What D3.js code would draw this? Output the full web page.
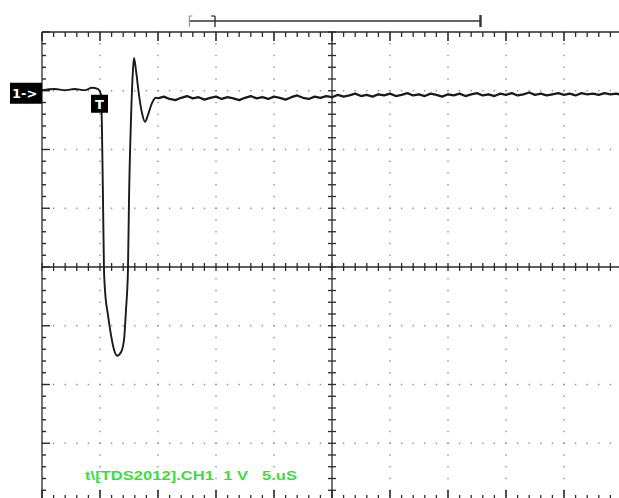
<!DOCTYPE html>
<html>
<head>
<meta charset="utf-8">
<script src="https://cdn.jsdelivr.net/npm/d3@7"></script>
<style>
  html, body { margin: 0; padding: 0; background: #fff; }
  svg { display: block; }
</style>
</head>
<body>
<div id="chart"></div>
<script>
// scope screen: 5 us/div, 1 V/div, 10 x 8 divisions
const timeDomain = [0, 50]
const voltDomain = [-4, 4]
const divTimes = [0, 5, 10, 15, 20, 25, 30, 35, 40, 45, 50]
const divVolts = [-4, -3, -2, -1, 0, 1, 2, 3, 4]

// pulse edge (us, V)
const edgeTimes = [0, 1.1, 2.0, 2.8, 3.7, 4.3, 4.8, 5.09, 5.17, 5.26, 5.34, 5.43, 5.69, 5.95, 6.21, 6.47, 6.81, 7.07, 7.24, 7.41, 7.5, 7.67, 7.84, 7.93, 8.1, 8.36, 8.62, 8.88, 9.14, 9.48, 9.83, 10.0]
const edgeVolts = [3.01, 3.03, 3.01, 3.03, 3.01, 3.05, 3.03, 2.93, 2.33, 1.14, 0, -0.39, -0.82, -1.16, -1.41, -1.51, -1.45, -1.24, -0.73, -0.05, 1.14, 2.5, 3.35, 3.56, 3.35, 2.93, 2.62, 2.47, 2.59, 2.79, 2.88, 2.87]

// settled, noisy part, one sample every 0.5 us from 10 us
const tailStart = 10
const tailStep = 0.5
const tailVolts = [
  2.87, 2.90, 2.86, 2.84, 2.88, 2.91, 2.87, 2.89, 2.85, 2.88,
  2.90, 2.86, 2.89, 2.87, 2.84, 2.88, 2.91, 2.87, 2.89, 2.86,
  2.90, 2.88, 2.85, 2.89, 2.92, 2.88, 2.86, 2.90, 2.88, 2.91,
  2.89, 2.93, 2.90, 2.92, 2.95, 2.91, 2.93, 2.90, 2.94, 2.92,
  2.95, 2.91, 2.93, 2.96, 2.92, 2.94, 2.91, 2.95, 2.93, 2.90,
  2.94, 2.92, 2.95, 2.91, 2.94, 2.96, 2.92, 2.94, 2.91, 2.95,
  2.93, 2.96, 2.92, 2.94, 2.97, 2.93, 2.95, 2.92, 2.94, 2.96,
  2.93, 2.95, 2.92, 2.96, 2.94, 2.95, 2.93, 2.96, 2.94, 2.95,
  2.93
]

const channelLabel = "1->"
const triggerLabel = "T"
const readout = "t\\[TDS2012].CH1  1 V   5.uS"
const triggerLevel = 3.0
const triggerTime = 5.0
const windowRange = [12.7, 37.8]

const config = {
  width: 619,
  height: 498,
  left: 42,
  top: 32,
  right: 622,
  bottom: 502,
  gridColor: "#8c8c8c",
  axisColor: "#2a2a2a",
  traceColor: "#1a1a1a",
  readoutColor: "#3ddc3d"
}

const x = d3.scaleLinear().domain(timeDomain).range([config.left, config.right])
const y = d3.scaleLinear().domain(voltDomain).range([config.bottom, config.top])

const svg = d3.select("#chart").append("svg")
    .attr("width", config.width)
    .attr("height", config.height)

function drawGrid () {
  const minorTimes = d3.range(timeDomain[0], timeDomain[1] + 0.01, 1)
  const minorVolts = d3.range(voltDomain[0], voltDomain[1] + 0.01, 0.2)
  const g = svg.append("g").attr("class", "grid")

  // dotted division lines
  divTimes.slice(1, -1).filter(t => t !== 25).forEach(t => {
    g.selectAll(null).data(minorVolts).enter().append("rect")
      .attr("x", x(t) - 0.7)
      .attr("y", d => y(d) - 0.7)
      .attr("width", 1.4)
      .attr("height", 1.4)
      .attr("fill", config.gridColor)
  })
  divVolts.slice(1, -1).filter(v => v !== 0).forEach(v => {
    g.selectAll(null).data(minorTimes).enter().append("rect")
      .attr("x", d => x(d) - 0.7)
      .attr("y", y(v) - 0.7)
      .attr("width", 1.4)
      .attr("height", 1.4)
      .attr("fill", config.gridColor)
  })

  const axes = svg.append("g").attr("class", "axes")
    .attr("stroke", config.axisColor)

  // border lines
  axes.append("line").attr("x1", x(0)).attr("x2", x(50)).attr("y1", y(4)).attr("y2", y(4)).attr("stroke-width", 1.3)
  axes.append("line").attr("x1", x(0)).attr("x2", x(0)).attr("y1", y(4)).attr("y2", y(-4)).attr("stroke-width", 1.3)
  axes.append("line").attr("x1", x(0)).attr("x2", x(50)).attr("y1", y(-4)).attr("y2", y(-4)).attr("stroke-width", 1.3)

  // center cross
  axes.append("line").attr("x1", x(0)).attr("x2", x(50)).attr("y1", y(0)).attr("y2", y(0)).attr("stroke-width", 1.3)
  axes.append("line").attr("x1", x(25)).attr("x2", x(25)).attr("y1", y(4)).attr("y2", y(-4)).attr("stroke-width", 1.3)

  const isMajorT = t => Math.abs(t % 5) < 0.01
  const isMajorV = v => Math.abs(Math.round(v) - v) < 0.01

  // top and bottom border ticks
  axes.selectAll(null).data(minorTimes).enter().append("line")
    .attr("x1", d => x(d)).attr("x2", d => x(d))
    .attr("y1", y(4)).attr("y2", d => y(4) + (isMajorT(d) ? 9 : 5))
    .attr("stroke-width", d => isMajorT(d) ? 1.6 : 1.3)
  axes.selectAll(null).data(minorTimes).enter().append("line")
    .attr("x1", d => x(d)).attr("x2", d => x(d))
    .attr("y1", y(-4)).attr("y2", d => y(-4) - (isMajorT(d) ? 12 : 7))
    .attr("stroke-width", d => isMajorT(d) ? 1.6 : 1.3)

  // left border ticks
  axes.selectAll(null).data(minorVolts).enter().append("line")
    .attr("x1", x(0)).attr("x2", d => x(0) + (isMajorV(d) ? 8 : 4))
    .attr("y1", d => y(d)).attr("y2", d => y(d))
    .attr("stroke-width", 1.4)

  // ticks on the center cross
  axes.selectAll(null).data(minorTimes).enter().append("line")
    .attr("x1", d => x(d)).attr("x2", d => x(d))
    .attr("y1", y(0) - 4).attr("y2", y(0) + 4)
    .attr("stroke-width", 1.3)
  axes.selectAll(null).data(minorVolts).enter().append("line")
    .attr("x1", x(25) - 4).attr("x2", x(25) + 4)
    .attr("y1", d => y(d)).attr("y2", d => y(d))
    .attr("stroke-width", 1.3)
}

function drawTrace () {
  const edge = edgeTimes.map((t, i) => [t, edgeVolts[i]])
  const tail = tailVolts.map((v, i) => [tailStart + i * tailStep, v])

  const smooth = d3.line()
    .x(d => x(d[0]))
    .y(d => y(d[1]))
    .curve(d3.curveMonotoneX)

  const jagged = d3.line()
    .x(d => x(d[0]))
    .y(d => y(d[1]))

  svg.append("path")
    .datum(edge)
    .attr("d", smooth)
    .attr("fill", "none")
    .attr("stroke", config.traceColor)
    .attr("stroke-width", 1.9)
    .attr("stroke-linejoin", "round")

  svg.append("path")
    .datum(tail)
    .attr("d", jagged)
    .attr("fill", "none")
    .attr("stroke", config.traceColor)
    .attr("stroke-width", 2.3)
    .attr("stroke-linejoin", "round")
}

function drawMarkers () {
  // channel marker on the left
  const yc = y(triggerLevel)
  svg.append("rect")
    .attr("x", 10).attr("y", yc - 8)
    .attr("width", x(0) - 10).attr("height", 21)
    .attr("fill", "#000")
  svg.append("text")
    .attr("x", 12).attr("y", yc + 7)
    .attr("fill", "#fff")
    .attr("font-family", "DejaVu Sans, sans-serif")
    .attr("font-weight", "bold")
    .attr("font-size", 13)
    .text(channelLabel)

  // trigger box
  const xt = x(triggerTime)
  svg.append("rect")
    .attr("x", xt - 9).attr("y", yc + 4)
    .attr("width", 17).attr("height", 18)
    .attr("fill", "#000")
  svg.append("text")
    .attr("x", xt - 0.5).attr("y", yc + 18)
    .attr("text-anchor", "middle")
    .attr("fill", "#fff")
    .attr("font-family", "DejaVu Sans, sans-serif")
    .attr("font-weight", "bold")
    .attr("font-size", 13)
    .text(triggerLabel)

  // acquisition window bracket at the top
  const g = svg.append("g").attr("stroke", "#333")
  const x0 = x(windowRange[0])
  const x1 = x(windowRange[1])
  const xw = 215
  g.append("line").attr("x1", x0).attr("x2", x1).attr("y1", 21).attr("y2", 21).attr("stroke-width", 1.6)
  g.append("line").attr("x1", x0).attr("x2", x0).attr("y1", 16).attr("y2", 27).attr("stroke-width", 1).attr("stroke", "#888")
  g.append("line").attr("x1", x0).attr("x2", x0 + 3).attr("y1", 16).attr("y2", 16).attr("stroke-width", 1).attr("stroke", "#888")
  g.append("line").attr("x1", xw).attr("x2", xw).attr("y1", 16).attr("y2", 27).attr("stroke-width", 1.4)
  g.append("line").attr("x1", xw - 4).attr("x2", xw).attr("y1", 16).attr("y2", 16).attr("stroke-width", 1.2)
  g.append("line").attr("x1", x1).attr("x2", x1).attr("y1", 15).attr("y2", 27).attr("stroke-width", 2.4)
}

function drawReadout () {
  svg.append("text")
    .attr("x", 85).attr("y", 480)
    .attr("fill", config.readoutColor)
    .attr("font-family", "Liberation Sans, Arial, sans-serif")
    .attr("font-weight", "bold")
    .attr("font-size", 12.5)
    .attr("textLength", 212)
    .attr("lengthAdjust", "spacingAndGlyphs")
    .style("white-space", "pre")
    .text(readout)
}

drawGrid()
drawTrace()
drawMarkers()
drawReadout()
</script>
</body>
</html>
